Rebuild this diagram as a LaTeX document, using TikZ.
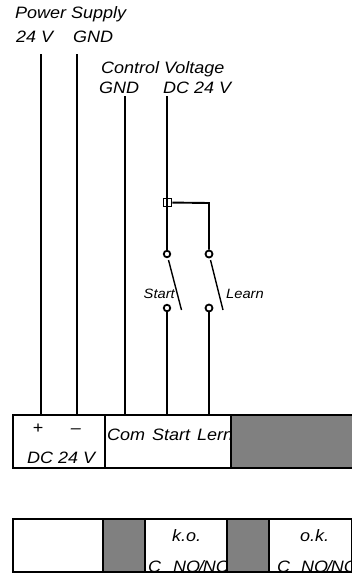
\documentclass[tikz,border=0pt]{standalone}
\usepackage{fontspec}
\setmainfont[FakeStretch=1.09]{Liberation Sans}
\newcommand{\nonc}{NO\kern-1.2pt/\kern-1.2pt NC}
\tikzset{
  wire/.style={line width=1.9pt},
  blade/.style={line width=1.4pt},
  cell/.style={draw, line width=1.9pt, anchor=north west, inner sep=0pt, outer sep=0pt},
  blank/.style={cell, fill=white},
  shaded/.style={cell, fill=black!50},
  lbl/.style={inner sep=0pt, font=\itshape\fontsize{16.5}{17}\selectfont, anchor=base},
  small/.style={inner sep=0pt, font=\itshape\fontsize{13.5}{14}\selectfont, anchor=base},
  contact/.style={circle, draw, fill=white, line width=1.8pt, minimum size=6.5pt, inner sep=0pt},
  junction/.style={rectangle, draw, line width=1.7pt, minimum size=8pt, inner sep=0pt}
}
\begin{document}
\begin{tikzpicture}[x=1pt,y=-1pt]
\useasboundingbox (0,0) rectangle (352,576);
% upper terminal block
\node[blank, minimum width=92pt, minimum height=53pt] (dcbox) at (13,415) {};
\node[blank, minimum width=126pt, minimum height=53pt] (inbox) at (105,415) {};
\node[lbl, anchor=base west] (com) at (107,440) {Com};
\node[lbl, anchor=base west] (start) at (152,440) {Start};
\node[lbl, anchor=base west] (lern) at (197,440) {Lern};
\node[shaded, minimum width=123pt, minimum height=53pt] (greyA) at (231,415) {};
\node[lbl] (plus) at (38,433) {+};
\node[lbl] (minus) at (76,433) {--};
\node[lbl, anchor=base west] (dcv) at (27,463) {DC 24 V};
% lower block
\node[blank, minimum width=90pt, minimum height=53pt] (emptybox) at (13,519) {};
\node[shaded, minimum width=42pt, minimum height=53pt] (greyB) at (103,519) {};
\node[blank, minimum width=82pt, minimum height=53pt] (kobox) at (145,519) {};
\node[blank, minimum width=83pt, minimum height=53pt] (okbox) at (269,519) {};
\node[lbl, anchor=base west] (ko) at (172,541) {k.o.};
\node[lbl, anchor=base west] (ok) at (300,541) {o.k.};
\node[lbl, anchor=base west] (koC) at (148,572) {C};
\node[lbl, anchor=base west] (koNO) at (173,572) {\nonc};
\node[lbl, anchor=base west] (okC) at (277,572) {C};
\node[lbl, anchor=base west] (okNO) at (301,572) {\nonc};
\node[shaded, minimum width=42pt, minimum height=53pt] (greyC) at (227,519) {};
% supply and control labels
\node[lbl, anchor=base west] (supply) at (15,18) {Power Supply};
\node[lbl, anchor=base west] (plusv) at (16,42) {24 V};
\node[lbl, anchor=base west] (gndA) at (73,42) {GND};
\node[lbl, anchor=base west] (control) at (101,73) {Control Voltage};
\node[lbl, anchor=base west] (gndB) at (99,93) {GND};
\node[lbl, anchor=base west] (dcB) at (163,93) {DC 24 V};
% free ends of the wires
\coordinate (w1) at (41,54);
\coordinate (w2) at (77,54);
\coordinate (w3) at (125,96);
\coordinate (w4) at (167,96);
\coordinate (b1) at (41,415);
\coordinate (b2) at (77,415);
\coordinate (b3) at (125,415);
\coordinate (b4) at (167,415);
\coordinate (b5) at (209,415);
\coordinate (corner) at (209,203);
\node[junction] (jct) at (167.5,202.5) {};
\node[contact] (startT) at (167,254) {};
\node[contact] (startB) at (167,308) {};
\node[contact, minimum width=5.5pt, minimum height=7pt] (lernT) at (209,254) {};
\node[contact, minimum width=5.5pt, minimum height=7pt] (lernB) at (209,308) {};
\draw[wire] (w1) -- (b1);
\draw[wire] (w2) -- (b2);
\draw[wire] (w3) -- (b3);
\draw[wire] (w4) -- (startT);
\draw[wire] (jct) -- (corner) -- (lernT);
\draw[wire] (startB) -- (b4);
\draw[wire] (lernB) -- (b5);
% switch blades
\coordinate (sa) at (168.5,260);
\coordinate (sb) at (181.5,310);
\coordinate (la) at (210.5,260);
\coordinate (lb) at (223,310);
\draw[blade] (sa) -- (sb);
\draw[blade] (la) -- (lb);
\node[small, anchor=base east] (startlbl) at (175,298) {Start};
\node[small, anchor=base west] (lernlbl) at (226,298) {Learn};
\end{tikzpicture}
\end{document}
